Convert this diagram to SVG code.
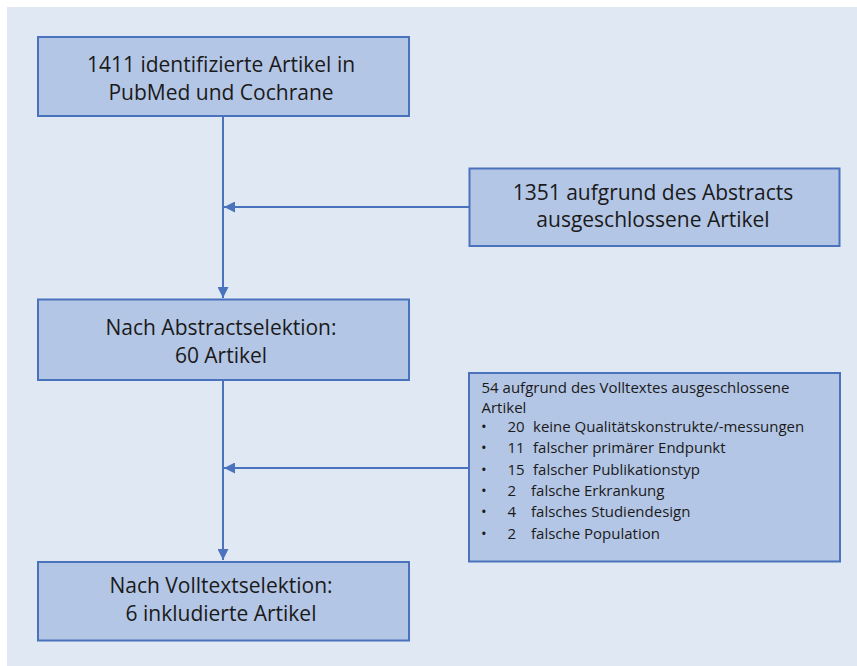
<svg xmlns="http://www.w3.org/2000/svg" width="857" height="666" viewBox="0 0 857 666">
<style>
.box{fill:#b4c6e5;stroke:#4a72bd;stroke-width:2}
.t{font-family:"Open Sans","Noto Sans",sans-serif;font-size:21px;fill:#1a1a1a;text-anchor:middle}
.s{font-family:"Open Sans","Noto Sans",sans-serif;font-size:15px;fill:#1a1a1a}
.ln{stroke:#4a72bd;stroke-width:2;fill:none}
</style>
<defs>
<marker id="ah" viewBox="0 0 10 10" refX="10" refY="5" markerWidth="5.5" markerHeight="5.5" orient="auto" markerUnits="strokeWidth">
<path d="M0,0 L10,5 L0,10 z" fill="#4a72bd"/>
</marker>
</defs>
<rect x="0" y="0" width="857" height="666" fill="#ffffff"/>
<rect x="7" y="7" width="850" height="659" fill="#dfe8f3"/>
<g id="connectors">
<line class="ln" x1="223" y1="117" x2="223" y2="298" marker-end="url(#ah)"/>
<line class="ln" x1="469" y1="207" x2="224" y2="207" marker-end="url(#ah)"/>
<line class="ln" x1="223" y1="381" x2="223" y2="560" marker-end="url(#ah)"/>
<line class="ln" x1="469" y1="468" x2="224" y2="468" marker-end="url(#ah)"/>
</g>
<g id="n1">
<rect class="box" x="38" y="37" width="371" height="79"/>
<text class="t" x="221" y="71.5">1411 identifizierte Artikel in</text>
<text class="t" x="221" y="100">PubMed und Cochrane</text>
</g>
<g id="n2">
<rect class="box" x="469.5" y="168.5" width="370" height="77.5"/>
<text class="t" x="653" y="199.5">1351 aufgrund des Abstracts</text>
<text class="t" x="653" y="227">ausgeschlossene Artikel</text>
</g>
<g id="n3">
<rect class="box" x="38" y="299.5" width="371" height="80.5"/>
<text class="t" x="221" y="335">Nach Abstractselektion:</text>
<text class="t" x="221" y="362.5">60 Artikel</text>
</g>
<g id="n4">
<rect class="box" x="469" y="373" width="371" height="188.5"/>
<text class="s" x="481.5" y="393.3">54 aufgrund des Volltextes ausgeschlossene</text>
<text class="s" x="481.5" y="412.7">Artikel</text>
<g class="s">
<text x="481" y="431.7">•</text><text x="507.5" y="431.7">20</text><text x="533" y="431.7">keine Qualitätskonstrukte/-messungen</text>
<text x="481" y="453.3">•</text><text x="507.5" y="453.3">11</text><text x="533" y="453.3">falscher primärer Endpunkt</text>
<text x="481" y="475">•</text><text x="507.5" y="475">15</text><text x="533" y="475">falscher Publikationstyp</text>
<text x="481" y="495.7">•</text><text x="507.5" y="495.7">2</text><text x="531" y="495.7">falsche Erkrankung</text>
<text x="481" y="517.3">•</text><text x="507.5" y="517.3">4</text><text x="531" y="517.3">falsches Studiendesign</text>
<text x="481" y="538.7">•</text><text x="507.5" y="538.7">2</text><text x="531" y="538.7">falsche Population</text>
</g>
</g>
<g id="n5">
<rect class="box" x="38" y="562" width="371" height="78.5"/>
<text class="t" x="221" y="593.3">Nach Volltextselektion:</text>
<text class="t" x="221" y="620.7">6 inkludierte Artikel</text>
</g>
</svg>
